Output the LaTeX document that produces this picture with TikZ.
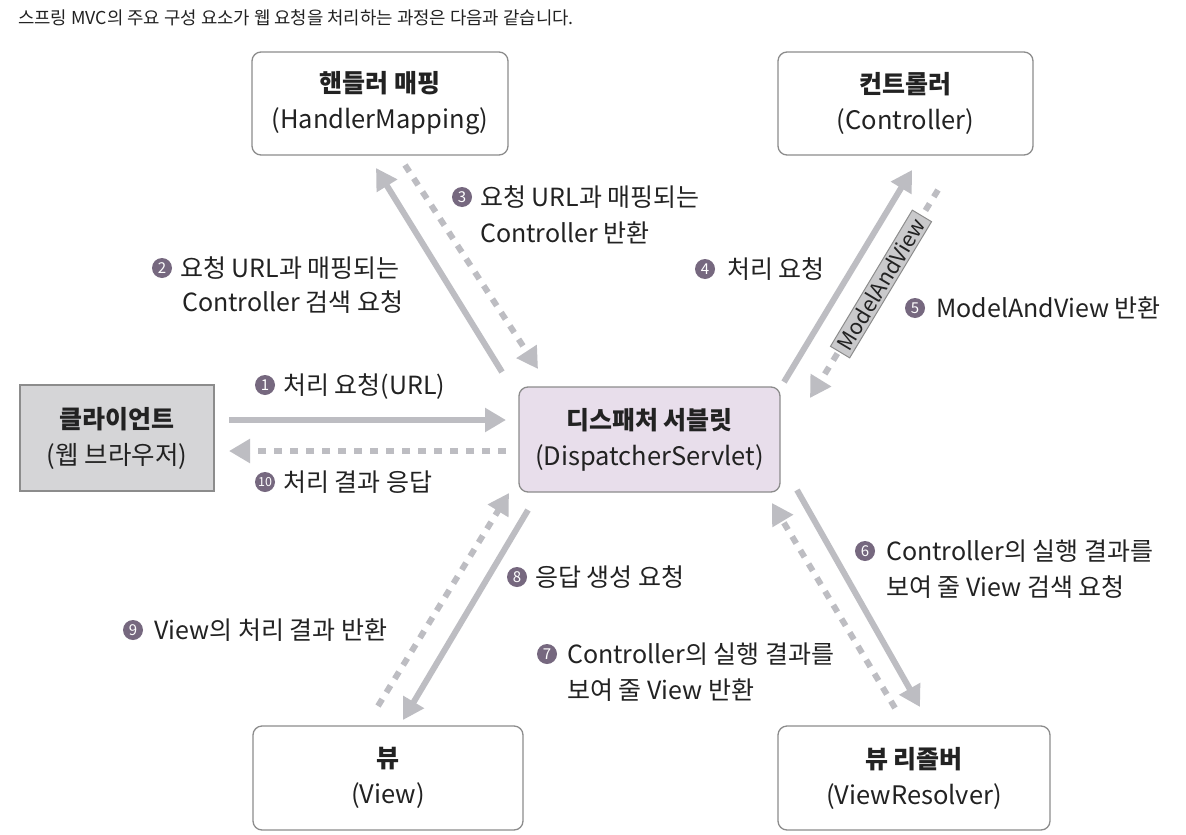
\documentclass[tikz,border=0pt]{standalone}
\usepackage{fontspec}
\setmainfont{Noto Sans CJK KR}
\usetikzlibrary{arrows.meta}
\definecolor{arr}{HTML}{BDBDC2}
\definecolor{bd}{HTML}{8C8C8C}
\definecolor{clientfill}{HTML}{D5D5D7}
\definecolor{dispfill}{HTML}{E8DEEB}
\definecolor{numc}{HTML}{76687F}
\definecolor{mavfill}{HTML}{C9C9CB}
\definecolor{txt}{HTML}{222222}
\begin{document}
\begin{tikzpicture}[x=1pt,y=-1pt,
  box/.style={draw=bd, line width=1.3pt, rounded corners=9pt, fill=white, align=center,
    inner sep=0pt, text=txt, font=\fontsize{25.5}{36}\selectfont},
  lbl/.style={anchor=base west, inner sep=0pt, text=txt, font=\fontsize{25}{25}\selectfont},
  num/.style={circle, fill=numc, text=white, inner sep=0pt, minimum size=20pt,
    font=\fontsize{15}{15}\selectfont},
  solidarr/.style={draw=arr, line width=6pt, -{Triangle[length=21pt,width=23pt]}},
  dasharr/.style={draw=arr, line width=6pt, dash pattern=on 8pt off 8pt, -{Triangle[length=21pt,width=23pt]}},
]
\useasboundingbox[fill=white] (0,0) rectangle (1186,835);

% caption
\node[anchor=base west, inner sep=0pt, text=txt, font=\fontsize{17.8}{17.8}\selectfont] (cap) at (18,24) {스프링 MVC의 주요 구성 요소가 웹 요청을 처리하는 과정은 다음과 같습니다.};

% boxes
\node[box, minimum width=256pt, minimum height=103pt] (hm) at (380,103.5) {{\fontsize{25}{36}\selectfont\bfseries 핸들러 매핑}\\(HandlerMapping)};
\node[box, minimum width=255pt, minimum height=103pt] (ctrl) at (905.5,103.5) {{\fontsize{25}{36}\selectfont\bfseries 컨트롤러}\\(Controller)};
\node[box, rounded corners=0pt, fill=clientfill, minimum width=194pt, minimum height=106pt] (client) at (117,438) {{\fontsize{25}{36}\selectfont\bfseries 클라이언트}\\(웹 브라우저)};
\node[box, fill=dispfill, minimum width=261pt, minimum height=105pt] (disp) at (649.5,439.5) {{\fontsize{25}{36}\selectfont\bfseries 디스패처 서블릿}\\(DispatcherServlet)};
\node[box, minimum width=270pt, minimum height=104pt] (view) at (388,778) {{\fontsize{25}{36}\selectfont\bfseries 뷰}\\(View)};
\node[box, minimum width=272pt, minimum height=104pt] (vr) at (914,778) {{\fontsize{25}{36}\selectfont\bfseries 뷰 리졸버}\\(ViewResolver)};

% arrow end points
\coordinate (a1s) at (229,420); \coordinate (a1e) at (506,420);
\coordinate (a10s) at (506,451); \coordinate (a10e) at (229,451);
\coordinate (a2s) at (502,372); \coordinate (a2e) at (376,168);
\coordinate (a3s) at (405,165); \coordinate (a3e) at (538,369);
\coordinate (a4s) at (784,382); \coordinate (a4e) at (912,170);
\coordinate (a5s) at (938,190); \coordinate (a5e) at (810,398);
\coordinate (a6s) at (797,490); \coordinate (a6e) at (920,707);
\coordinate (a7s) at (895,708); \coordinate (a7e) at (772,503);
\coordinate (a8s) at (528,510); \coordinate (a8e) at (403,720);
\coordinate (a9s) at (378,706); \coordinate (a9e) at (509,493);

\draw[solidarr] (a1s) -- (a1e);
\draw[dasharr] (a10s) -- (a10e);
\draw[solidarr] (a2s) -- (a2e);
\draw[dasharr] (a3s) -- (a3e);
\draw[solidarr] (a4s) -- (a4e);
\draw[dasharr] (a5s) -- (a5e);
\draw[solidarr] (a6s) -- (a6e);
\draw[dasharr] (a7s) -- (a7e);
\draw[solidarr] (a8s) -- (a8e);
\draw[dasharr] (a9s) -- (a9e);

% ModelAndView tag
\node[draw=bd, line width=1pt, fill=mavfill, rotate=59, inner xsep=5pt, inner ysep=2.5pt, text=txt,
  font=\fontsize{21.5}{21.5}\selectfont] (mav) at (881,284) {ModelAndView};

% labels
\node[num] (n1) at (265,385) {1};
\node[lbl] (l1) at (283,394) {처리 요청(URL)};
\node[num] (n10) at (265,482) {\fontsize{12.5}{12.5}\selectfont 10};
\node[lbl] (l10) at (283,491) {처리 결과 응답};

\node[num] (n2) at (162,268) {2};
\node[lbl] (l2a) at (180,277) {요청 URL과 매핑되는};
\node[lbl] (l2b) at (182,311) {Controller 검색 요청};

\node[num] (n3) at (462,197) {3};
\node[lbl] (l3a) at (480,206) {요청 URL과 매핑되는};
\node[lbl] (l3b) at (480,242) {Controller 반환};

\node[num] (n4) at (705,269) {4};
\node[lbl] (l4) at (727,278) {처리 요청};

\node[num] (n5) at (915,308) {5};
\node[lbl] (l5) at (936,317) {ModelAndView 반환};

\node[num] (n6) at (865,551) {6};
\node[lbl] (l6a) at (886,560) {Controller의 실행 결과를};
\node[lbl] (l6b) at (886,596) {보여 줄 View 검색 요청};

\node[num] (n7) at (547,654) {7};
\node[lbl] (l7a) at (567,663) {Controller의 실행 결과를};
\node[lbl] (l7b) at (567,699) {보여 줄 View 반환};

\node[num] (n8) at (517,577) {8};
\node[lbl] (l8) at (535,586) {응답 생성 요청};

\node[num] (n9) at (133,630) {9};
\node[lbl] (l9) at (154,639) {View의 처리 결과 반환};
\end{tikzpicture}
\end{document}
